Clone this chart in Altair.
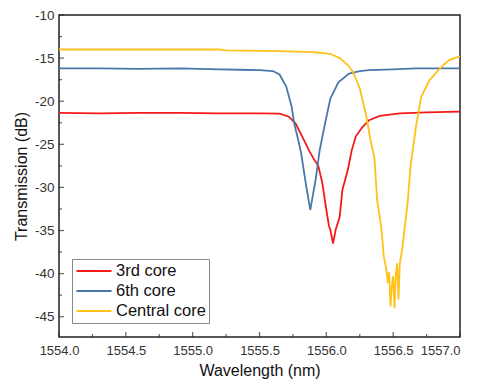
import altair as alt
import pandas as pd

# ---- data ----
wl_red = [1554.0, 1554.3, 1554.6, 1554.9, 1555.2, 1555.5, 1555.65, 1555.72, 1555.77, 1555.82,
          1555.87, 1555.91, 1555.94, 1555.97, 1556.00, 1556.02, 1556.03, 1556.05, 1556.07, 1556.10,
          1556.12, 1556.16, 1556.19, 1556.22, 1556.27, 1556.32, 1556.40, 1556.55, 1556.75, 1557.0]
t_red = [-21.35, -21.4, -21.35, -21.35, -21.4, -21.4, -21.45, -21.8, -22.6, -24.1,
         -25.7, -26.8, -27.5, -29.5, -32.6, -34.5, -34.9, -36.5, -34.9, -33.4,
         -30.3, -28.0, -25.7, -24.1, -23.0, -22.2, -21.7, -21.4, -21.3, -21.2]

wl_blue = [1554.0, 1554.3, 1554.6, 1554.9, 1555.2, 1555.35, 1555.5, 1555.6, 1555.65, 1555.70,
           1555.74, 1555.76, 1555.79, 1555.81, 1555.85, 1555.88, 1555.92, 1555.95, 1555.99, 1556.03,
           1556.09, 1556.17, 1556.25, 1556.32, 1556.5, 1556.67, 1557.0]
t_blue = [-16.2, -16.2, -16.25, -16.2, -16.3, -16.35, -16.4, -16.5, -16.9, -18.3,
          -20.6, -22.6, -24.5, -25.9, -29.9, -32.6, -29.1, -25.7, -22.6, -19.7,
          -17.8, -16.8, -16.5, -16.4, -16.3, -16.2, -16.2]

wl_central = [1554.0, 1554.5, 1555.0, 1555.2, 1555.25, 1555.5, 1555.65, 1555.9, 1556.03, 1556.10,
              1556.16, 1556.20, 1556.25, 1556.30, 1556.33, 1556.36, 1556.38, 1556.41, 1556.43, 1556.45,
              1556.46, 1556.47, 1556.48, 1556.49, 1556.50, 1556.51, 1556.52, 1556.53, 1556.54, 1556.55,
              1556.57, 1556.61, 1556.63, 1556.65, 1556.67, 1556.71, 1556.77, 1556.85, 1556.92, 1557.0]
t_central = [-14.0, -14.0, -14.0, -14.0, -14.1, -14.15, -14.2, -14.3, -14.5, -15.0,
             -15.8, -16.6, -18.5, -21.8, -24.5, -26.6, -31.5, -34.5, -38.0, -39.6,
             -41.1, -39.8, -43.8, -41.5, -40.3, -44.0, -40.0, -38.8, -43.0, -38.8,
             -36.9, -31.5, -27.5, -25.3, -23.0, -19.5, -17.6, -16.2, -15.2, -14.8]

series_names = ["3rd core", "6th core", "Central core"]
series_colors = ["#f51a1a", "#4a77aa", "#ffc21a"]

x_major = [1554.0, 1554.5, 1555.0, 1555.5, 1556.0, 1556.5, 1557.0]
x_minor = [1554.25, 1554.75, 1555.25, 1555.75, 1556.25, 1556.75]
y_major = [-45, -40, -35, -30, -25, -20, -15, -10]
y_minor = [-42.5, -37.5, -32.5, -27.5, -22.5, -17.5, -12.5]

frames = []
for name, wl, t in zip(series_names, [wl_red, wl_blue, wl_central], [t_red, t_blue, t_central]):
    frames.append(pd.DataFrame({"wl": wl, "t": t, "series": name, "order": range(len(wl))}))
df = pd.concat(frames, ignore_index=True)

W, H = 401, 322
FONT = "Liberation Sans"

xscale = alt.Scale(domain=[1554.0, 1557.0], nice=False, zero=False)
yscale = alt.Scale(domain=[-47.35, -10], nice=False, zero=False)

xaxis = alt.Axis(title="Wavelength (nm)", values=x_major, format=".1f", ticks=False,
                 domain=False, grid=False, labelFlush=False, labelFontSize=13,
                 labelAlign={"condition": {"test": "datum.value >= 1557", "value": "right"},
                             "value": "center"},
                 labelColor="#333", labelPadding=7, titleFontSize=16,
                 titleFontWeight="normal", titleColor="#111", titlePadding=5,
                 labelFont=FONT, titleFont=FONT)
yaxis = alt.Axis(title="Transmission (dB)", values=y_major, ticks=False, domain=False,
                 grid=False, labelFlush=False, labelFontSize=13.5, labelColor="#333",
                 labelPadding=5,
                 labelExpr="datum.value < 0 ? '-' + format(-datum.value, 'd') : format(datum.value, 'd')",
                 titleFontSize=16, titleFontWeight="normal", titleColor="#111",
                 titlePadding=5, labelFont=FONT, titleFont=FONT)

lines = alt.Chart(df).mark_line(strokeWidth=1.8).encode(
    x=alt.X("wl:Q", scale=xscale, axis=xaxis),
    y=alt.Y("t:Q", scale=yscale, axis=yaxis),
    color=alt.Color("series:N",
                    scale=alt.Scale(domain=series_names, range=series_colors),
                    legend=alt.Legend(title=None, orient="none", legendX=13, legendY=244,
                                      symbolType="stroke", symbolSize=1225, symbolStrokeWidth=2.2,
                                      clipHeight=18,
                                      labelFontSize=16.5, labelFont=FONT, labelColor="#111",
                                      labelOffset=3, rowPadding=2, padding=3,
                                      strokeColor="#888", fillColor="white")),
    order="order:Q",
)

xmaj = alt.Chart(pd.DataFrame({"wl": x_major})).mark_tick(
    orient="vertical", color="#222", thickness=1.2, size=5).encode(
    x=alt.X("wl:Q", scale=xscale, axis=xaxis), y=alt.value(H - 2.5))
xmin = alt.Chart(pd.DataFrame({"wl": x_minor})).mark_tick(
    orient="vertical", color="#222", thickness=1.2, size=3).encode(
    x=alt.X("wl:Q", scale=xscale, axis=xaxis), y=alt.value(H - 1.5))
ymaj = alt.Chart(pd.DataFrame({"t": y_major})).mark_tick(
    orient="horizontal", color="#222", thickness=1.2, size=5).encode(
    y=alt.Y("t:Q", scale=yscale, axis=yaxis), x=alt.value(2.5))
ymin = alt.Chart(pd.DataFrame({"t": y_minor})).mark_tick(
    orient="horizontal", color="#222", thickness=1.2, size=3).encode(
    y=alt.Y("t:Q", scale=yscale, axis=yaxis), x=alt.value(1.5))

chart = alt.layer(lines, xmaj, xmin, ymaj, ymin).properties(
    width=W, height=H,
    background="white",
    autosize=alt.AutoSizeParams(type="none"),
    padding={"left": 51, "top": 7, "right": 13, "bottom": 43},
).configure_view(stroke="#222", strokeWidth=1.5)

chart.save("out.html", embed_options={"renderer": "svg", "actions": False})
